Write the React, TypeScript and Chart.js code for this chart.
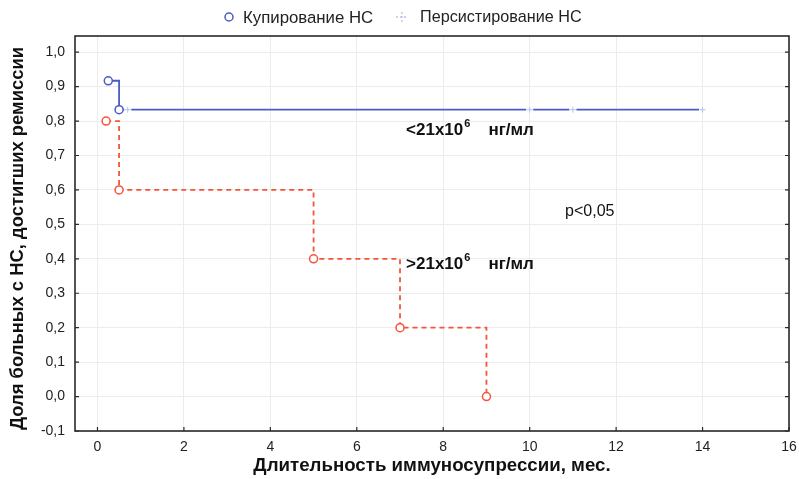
import { useEffect, useRef } from "react";
import { Chart, registerables } from "chart.js";

Chart.register(...registerables);

// ---- Data ----
const xTicks = [0, 2, 4, 6, 8, 10, 12, 14, 16];
const yTicks = [-0.1, 0, 0.1, 0.2, 0.3, 0.4, 0.5, 0.6, 0.7, 0.8, 0.9, 1.0];

// < 21x10^6 ng/ml group (blue)
const lowStepX = [0.25, 0.5, 14];
const lowStepY = [0.917, 0.833, 0.833];
const lowEventX = [0.25, 0.5];
const lowEventY = [0.917, 0.833];
const lowCensX = [0.7, 10, 11, 14];
const lowCensY = [0.833, 0.833, 0.833, 0.833];

// > 21x10^6 ng/ml group (red)
const highStepX = [0.2, 0.5, 5, 7, 9];
const highStepY = [0.8, 0.6, 0.4, 0.2, 0.0];
const highEventX = [0.2, 0.5, 5, 7, 9];
const highEventY = [0.8, 0.6, 0.4, 0.2, 0.0];

const legendLabels = ["Купирование НС", "Персистирование НС"];
const xTitle = "Длительность иммуносупрессии, мес.";
const yTitle = "Доля больных с НС, достигших ремиссии";
const pLabel = "p<0,05";

const BLUE = "#4b5bc6";
const RED = "#f4553a";
const CENS = "#b9c1ec";
const FONT = "'Liberation Sans', Arial, sans-serif";

const pts = (xs: number[], ys: number[]) => xs.map((x, i) => ({ x, y: ys[i] }));

export default function App() {
  const ref = useRef<HTMLCanvasElement | null>(null);

  useEffect(() => {
    document.body.style.margin = "0";
    const canvas = ref.current;
    if (!canvas) return;

    const decor = {
      id: "decor",
      afterDraw(chart: any) {
        const { ctx, chartArea: a, scales } = chart;
        const xs = scales.x;
        const ys = scales.y;
        ctx.save();
        // frame
        ctx.strokeStyle = "#2a2a2a";
        ctx.lineWidth = 1.6;
        ctx.strokeRect(a.left, a.top, a.right - a.left, a.bottom - a.top);
        // inward ticks
        ctx.lineWidth = 1.2;
        ctx.beginPath();
        xTicks.forEach((v) => {
          const px = xs.getPixelForValue(v);
          ctx.moveTo(px, a.bottom);
          ctx.lineTo(px, a.bottom - 4);
        });
        yTicks.forEach((v) => {
          const py = ys.getPixelForValue(v);
          ctx.moveTo(a.left, py);
          ctx.lineTo(a.left + 4, py);
          ctx.moveTo(a.right, py);
          ctx.lineTo(a.right - 4, py);
        });
        ctx.stroke();

        // axis titles
        ctx.fillStyle = "#111";
        ctx.font = `bold 18.7px ${FONT}`;
        ctx.textAlign = "center";
        ctx.textBaseline = "middle";
        ctx.fillText(xTitle, (a.left + a.right) / 2, 466);
        ctx.font = `bold 18.4px ${FONT}`;
        ctx.save();
        ctx.translate(18, (a.top + a.bottom) / 2 + 5);
        ctx.rotate(-Math.PI / 2);
        ctx.fillText(yTitle, 0, 0);
        ctx.restore();

        // legend
        ctx.font = `16.8px ${FONT}`;
        ctx.textAlign = "left";
        ctx.fillStyle = "#222";
        ctx.strokeStyle = BLUE;
        ctx.lineWidth = 1.5;
        ctx.beginPath();
        ctx.arc(229, 17, 4, 0, Math.PI * 2);
        ctx.stroke();
        ctx.fillText(legendLabels[0], 243, 18);
        ctx.strokeStyle = CENS;
        ctx.lineWidth = 1.3;
        ctx.setLineDash([2, 2]);
        ctx.beginPath();
        ctx.moveTo(396, 17);
        ctx.lineTo(408, 17);
        ctx.moveTo(402, 12);
        ctx.lineTo(402, 22);
        ctx.stroke();
        ctx.setLineDash([]);
        ctx.font = `16.2px ${FONT}`;
        ctx.fillText(legendLabels[1], 420, 18);

        // annotations
        const drawConc = (sign: string, xv: number, yv: number) => {
          let px = xs.getPixelForValue(xv);
          const py = ys.getPixelForValue(yv);
          ctx.textBaseline = "alphabetic";
          ctx.font = `bold 17px ${FONT}`;
          const main = sign + "21x10";
          ctx.fillText(main, px, py);
          px += ctx.measureText(main).width + 1;
          ctx.font = `bold 11px ${FONT}`;
          ctx.fillText("6", px, py - 8);
          px += ctx.measureText("6").width + 18;
          ctx.font = `bold 17px ${FONT}`;
          ctx.fillText("нг/мл", px, py);
        };
        ctx.fillStyle = "#111";
        drawConc("<", 7.14, 0.76);
        drawConc(">", 7.14, 0.37);
        ctx.font = `16px ${FONT}`;
        ctx.textBaseline = "alphabetic";
        ctx.fillText(pLabel, xs.getPixelForValue(10.82), ys.getPixelForValue(0.525));
        ctx.restore();
      },
    };

    const chart = new Chart(canvas, {
      type: "scatter",
      data: {
        datasets: [
          {
            label: "low events",
            data: pts(lowEventX, lowEventY),
            showLine: false,
            pointStyle: "circle",
            pointRadius: 4,
            pointBorderWidth: 1.5,
            pointBorderColor: BLUE,
            pointBackgroundColor: "#ffffff",
            order: 1,
          },
          {
            label: "high events",
            data: pts(highEventX, highEventY),
            showLine: false,
            pointStyle: "circle",
            pointRadius: 4,
            pointBorderWidth: 1.5,
            pointBorderColor: RED,
            pointBackgroundColor: "#ffffff",
            order: 1,
          },
          {
            label: "censored marks",
            data: pts(lowCensX, lowCensY),
            showLine: false,
            pointStyle: "cross",
            pointRadius: 3,
            pointBorderWidth: 1,
            pointBorderColor: CENS,
            order: 2,
          },
          {
            label: "censored gaps",
            data: pts(lowCensX, lowCensY),
            showLine: false,
            pointStyle: "circle",
            pointRadius: 3.6,
            pointBorderWidth: 0,
            pointBackgroundColor: "#ffffff",
            pointBorderColor: "#ffffff",
            order: 3,
          },
          {
            label: legendLabels[0],
            data: pts(lowStepX, lowStepY),
            showLine: true,
            stepped: "before",
            borderColor: BLUE,
            borderWidth: 1.8,
            pointRadius: 0,
            order: 4,
          },
          {
            label: legendLabels[1],
            data: pts(highStepX, highStepY),
            showLine: true,
            stepped: "before",
            borderColor: RED,
            borderWidth: 1.8,
            borderDash: [5, 4],
            pointRadius: 0,
            order: 4,
          },
        ],
      },
      options: {
        animation: false,
        responsive: false,
        maintainAspectRatio: false,
        devicePixelRatio: 1,
        layout: { padding: { left: 0, right: 10, top: 36, bottom: 0 } },
        plugins: { legend: { display: false }, tooltip: { enabled: false } },
        scales: {
          x: {
            type: "linear",
            min: -0.52,
            max: 16,
            afterBuildTicks: (s: any) => {
              s.ticks = xTicks.map((v) => ({ value: v }));
            },
            afterFit: (s: any) => {
              s.height = 48;
              s.paddingLeft = 0;
              s.paddingRight = 0;
            },
            grid: { color: "#ececec", lineWidth: 1, drawTicks: false },
            border: { display: false },
            ticks: {
              padding: 8,
              color: "#222",
              font: { family: FONT, size: 14 },
              callback: (v: any) => String(v),
            },
          },
          y: {
            type: "linear",
            min: -0.1,
            max: 1.047,
            afterBuildTicks: (s: any) => {
              s.ticks = yTicks.map((v) => ({ value: v }));
            },
            afterFit: (s: any) => {
              s.width = 75;
              s.paddingTop = 0;
              s.paddingBottom = 0;
            },
            grid: { color: "#ececec", lineWidth: 1, drawTicks: false },
            border: { display: false },
            ticks: {
              padding: 10,
              color: "#222",
              font: { family: FONT, size: 14 },
              callback: (v: any) => Number(v).toFixed(1).replace(".", ","),
            },
          },
        },
      },
      plugins: [decor],
    } as any);

    return () => chart.destroy();
  }, []);

  return (
    <div style={{ width: 799, height: 479, position: "relative" }}>
      <canvas ref={ref} width={799} height={479} />
    </div>
  );
}
